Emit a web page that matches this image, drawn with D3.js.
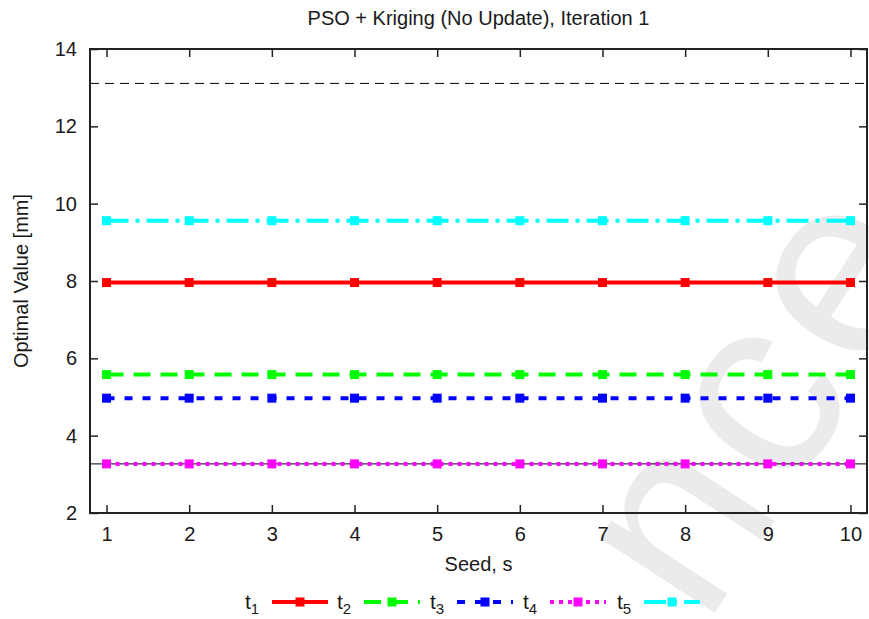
<!DOCTYPE html>
<html>
<head>
<meta charset="utf-8">
<script src="https://cdn.jsdelivr.net/npm/d3@7"></script>
<style>
  body { margin: 0; background: #fff; }
  text { font-family: "Liberation Sans", Arial, Helvetica, sans-serif; fill: #1a1a1a; }
</style>
</head>
<body>
<script>
// Data
var seeds = [1, 2, 3, 4, 5, 6, 7, 8, 9, 10];
var seriesNames = ['1', '2', '3', '4', '5'];
var t1 = [7.96, 7.96, 7.96, 7.96, 7.96, 7.96, 7.96, 7.96, 7.96, 7.96];
var t2 = [5.58, 5.58, 5.58, 5.58, 5.58, 5.58, 5.58, 5.58, 5.58, 5.58];
var t3 = [4.97, 4.97, 4.97, 4.97, 4.97, 4.97, 4.97, 4.97, 4.97, 4.97];
var t4 = [3.27, 3.27, 3.27, 3.27, 3.27, 3.27, 3.27, 3.27, 3.27, 3.27];
var t5 = [9.56, 9.56, 9.56, 9.56, 9.56, 9.56, 9.56, 9.56, 9.56, 9.56];
var upperBound = 13.11;
var lowerBound = 3.27;
var xTicks = [1, 2, 3, 4, 5, 6, 7, 8, 9, 10];
var yTicks = [2, 4, 6, 8, 10, 12, 14];

// Styles
var COLORS = ['#ff0000', '#00ff00', '#0000ff', '#ff00ff', '#00ffff'];
var DASHES = ['none', '17,10', '8,10', '4,5', '22,7,4,7'];
var WIDTH = 869;
var HEIGHT = 619;
var M = { left: 90, top: 49, right: 867, bottom: 513 };
var TICK = 8;
var MARK = 9;
var FONT = '"Liberation Sans", Arial, sans-serif';

var x = d3.scaleLinear().domain([0.8, 10.2]).range([M.left, M.right]);
var y = d3.scaleLinear().domain([2, 14]).range([M.bottom, M.top]);

var svg = d3.select('body').append('svg')
  .attr('width', WIDTH)
  .attr('height', HEIGHT);

// watermark
svg.append('text')
  .attr('transform', 'translate(705,628) rotate(-57)')
  .attr('font-size', 260)
  .attr('letter-spacing', 10)
  .style('fill', '#ebebeb')
  .text('nce');

// reference lines
svg.append('line')
  .attr('x1', M.left).attr('x2', M.right)
  .attr('y1', y(upperBound)).attr('y2', y(upperBound))
  .attr('stroke', '#000').attr('stroke-width', 1)
  .attr('stroke-dasharray', '9,6');

svg.append('line')
  .attr('x1', M.left).attr('x2', M.right)
  .attr('y1', y(lowerBound)).attr('y2', y(lowerBound))
  .attr('stroke', '#000').attr('stroke-width', 1);

var series = [t1, t2, t3, t4, t5];
var line = d3.line()
  .x(function (d, i) { return x(seeds[i]); })
  .y(function (d) { return y(d); });

series.forEach(function (vals, k) {
  var g = svg.append('g');
  g.append('path')
    .attr('d', line(vals))
    .attr('fill', 'none')
    .attr('stroke', COLORS[k])
    .attr('stroke-width', 4)
    .attr('stroke-dasharray', DASHES[k]);
  g.selectAll('rect')
    .data(vals)
    .enter().append('rect')
    .attr('x', function (d, i) { return x(seeds[i]) - MARK / 2; })
    .attr('y', function (d) { return y(d) - MARK / 2; })
    .attr('width', MARK)
    .attr('height', MARK)
    .attr('fill', COLORS[k]);
});

// axes (gnuplot style: ticks inward, mirrored)
var axes = svg.append('g');
axes.append('g')
  .attr('transform', 'translate(0,' + M.bottom + ')')
  .call(d3.axisBottom(x).tickValues(xTicks).tickSize(-TICK).tickPadding(14));
axes.append('g')
  .attr('transform', 'translate(0,' + M.top + ')')
  .call(d3.axisTop(x).tickValues(xTicks).tickSize(-TICK).tickFormat(''));
axes.append('g')
  .attr('transform', 'translate(' + M.left + ',0)')
  .call(d3.axisLeft(y).tickValues(yTicks).tickSize(-TICK).tickPadding(13));
axes.append('g')
  .attr('transform', 'translate(' + M.right + ',0)')
  .call(d3.axisRight(y).tickValues(yTicks).tickSize(-TICK).tickFormat(''));

axes.selectAll('.domain').remove();
axes.selectAll('.tick line').attr('stroke', '#222').attr('stroke-width', 1.5);
axes.selectAll('.tick text')
  .style('font-size', '20px')
  .style('font-family', FONT)
  .style('fill', '#1a1a1a');

svg.append('rect')
  .attr('x', M.left).attr('y', M.top)
  .attr('width', M.right - M.left).attr('height', M.bottom - M.top)
  .attr('fill', 'none')
  .attr('stroke', '#222')
  .attr('stroke-width', 2);

// titles
svg.append('text')
  .attr('x', (M.left + M.right) / 2).attr('y', 25)
  .attr('text-anchor', 'middle')
  .style('font-size', '20px')
  .text('PSO + Kriging (No Update), Iteration 1');

svg.append('text')
  .attr('x', (M.left + M.right) / 2).attr('y', 571)
  .attr('text-anchor', 'middle')
  .style('font-size', '20px')
  .text('Seed, s');

svg.append('text')
  .attr('transform', 'translate(28,' + ((M.top + M.bottom) / 2) + ') rotate(-90)')
  .attr('text-anchor', 'middle')
  .style('font-size', '20px')
  .text('Optimal Value [mm]');

// legend
var legend = svg.append('g').attr('transform', 'translate(0,602)');
var LEG_X = [245, 337, 430, 523, 617];
seriesNames.forEach(function (name, k) {
  var lx = LEG_X[k];
  var txt = legend.append('text')
    .attr('x', lx).attr('y', 7)
    .style('font-size', '21px');
  txt.append('tspan').text('t');
  txt.append('tspan').style('font-size', '15px').attr('dy', 5).text(name);
  legend.append('line')
    .attr('x1', lx + 27).attr('x2', lx + 83)
    .attr('y1', 0).attr('y2', 0)
    .attr('stroke', COLORS[k])
    .attr('stroke-width', 4)
    .attr('stroke-dasharray', DASHES[k]);
  legend.append('rect')
    .attr('x', lx + 55 - MARK / 2).attr('y', -MARK / 2)
    .attr('width', MARK).attr('height', MARK)
    .attr('fill', COLORS[k]);
});
</script>
</body>
</html>
